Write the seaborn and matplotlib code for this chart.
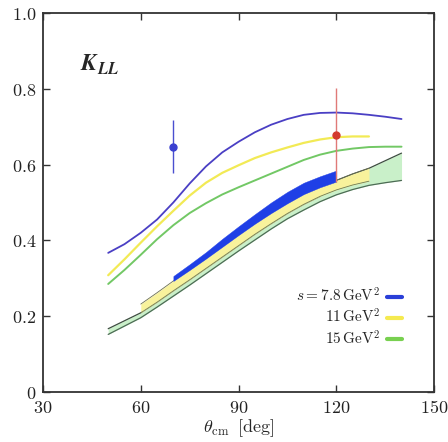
import numpy as np
import pandas as pd
import matplotlib
matplotlib.use("Agg")
import matplotlib.pyplot as plt
import seaborn as sns
from matplotlib.lines import Line2D

# ---------------------------------------------------------------
# datos
# ---------------------------------------------------------------
theta = [50, 55, 60, 65, 70, 75, 80, 85, 90, 95, 100, 105, 110, 115, 120, 125, 130, 135, 140]

kll_78 = [0.367, 0.390, 0.420, 0.455, 0.500, 0.550, 0.595, 0.632, 0.660, 0.685, 0.705,
          0.720, 0.731, 0.736, 0.737, 0.735, 0.731, 0.726, 0.720]
kll_11 = [0.308, 0.350, 0.394, 0.437, 0.478, 0.518, 0.552, 0.578, 0.598, 0.617, 0.632,
          0.645, 0.657, 0.666, 0.672, 0.674, 0.674]
kll_15 = [0.285, 0.322, 0.362, 0.403, 0.440, 0.472, 0.498, 0.521, 0.540, 0.558, 0.576,
          0.594, 0.612, 0.626, 0.636, 0.642, 0.646, 0.647, 0.647]

# bandas
theta_b78 = [70, 75, 80, 85, 90, 95, 100, 105, 110, 115, 120]
b78_lo = [0.293, 0.322, 0.352, 0.383, 0.414, 0.444, 0.472, 0.498, 0.522, 0.540, 0.555]
b78_hi = [0.306, 0.337, 0.369, 0.404, 0.437, 0.469, 0.500, 0.528, 0.552, 0.569, 0.584]

theta_b11 = [60, 65, 70, 75, 80, 85, 90, 95, 100, 105, 110, 115, 120, 125, 130]
b11_lo = [0.209, 0.237, 0.267, 0.296, 0.326, 0.356, 0.386, 0.416, 0.444, 0.471, 0.495,
          0.516, 0.533, 0.546, 0.556]
b11_hi = [0.232, 0.262, 0.293, 0.322, 0.352, 0.383, 0.414, 0.444, 0.472, 0.498, 0.522,
          0.541, 0.558, 0.575, 0.590]

b15_lo = [0.152, 0.174, 0.196, 0.224, 0.253, 0.282, 0.312, 0.342, 0.372, 0.401, 0.430,
          0.457, 0.480, 0.502, 0.520, 0.534, 0.545, 0.552, 0.558]
b15_hi = [0.167, 0.188, 0.209, 0.237, 0.267, 0.296, 0.326, 0.356, 0.386, 0.416, 0.444,
          0.471, 0.495, 0.516, 0.558, 0.575, 0.590, 0.610, 0.630]

# puntos experimentales
exp_theta = [70, 120]
exp_kll = [0.647, 0.678]
exp_err = [0.070, 0.125]

leyenda = [r"$s = 7.8\,\mathrm{GeV}^2$", r"$11\,\mathrm{GeV}^2$", r"$15\,\mathrm{GeV}^2$"]
xticks = [30, 60, 90, 120, 150]
yticks = [0, 0.2, 0.4, 0.6, 0.8, 1.0]
xticklabels = ["30", "60", "90", "120", "150"]
yticklabels = ["0", "0.2", "0.4", "0.6", "0.8", "1.0"]

# ---------------------------------------------------------------
sns.set_style("ticks")
plt.rcParams["mathtext.fontset"] = "cm"

fig = plt.figure(figsize=(4.48, 4.42), dpi=100)
ax = fig.add_axes([0.096, 0.113, 0.873, 0.858])

# bandas: verde, amarilla, azul
ax.fill_between(theta, b15_lo, b15_hi, color="#c9f0c9", lw=0, zorder=1)
sns.lineplot(x=theta, y=b15_lo, color="#4d6b55", lw=0.9, ax=ax, zorder=1.5)
sns.lineplot(x=theta, y=b15_hi, color="#3d4d40", lw=0.9, ax=ax, zorder=1.5)

ax.fill_between(theta_b11, b11_lo, b11_hi, color="#f8f29c", lw=0, zorder=2)
sns.lineplot(x=theta_b11, y=b11_lo, color="#6d7a55", lw=0.6, ax=ax, zorder=2.5)
sns.lineplot(x=theta_b11, y=b11_hi, color="#6d7050", lw=0.6, ax=ax, zorder=2.5)

ax.fill_between(theta_b78, b78_lo, b78_hi, color="#1f3fe6", lw=0.3,
                edgecolor="#1f3fe6", zorder=3)

# curvas
df = pd.DataFrame({"theta": theta, "kll": kll_78})
sns.lineplot(data=df, x="theta", y="kll", color="#4a3fc4", lw=1.3, ax=ax, zorder=4)
sns.lineplot(x=theta[:len(kll_11)], y=kll_11, color="#f2ea55", lw=1.6, ax=ax, zorder=4)
sns.lineplot(x=theta, y=kll_15, color="#72c865", lw=1.4, ax=ax, zorder=4)

# datos
ax.errorbar(exp_theta[0], exp_kll[0], yerr=exp_err[0], fmt="o", ms=5, color="#3a40d0",
            ecolor="#4a4fd0", elinewidth=1.0, capsize=0, zorder=6)
ax.errorbar(exp_theta[1], exp_kll[1], yerr=exp_err[1], fmt="o", ms=5, color="#d23a2e",
            ecolor="#e07a78", elinewidth=1.0, capsize=0, zorder=6)

ax.text(41.5, 0.862, r"$\mathbfit{K}_{\mathbfit{LL}}$", fontsize=17, va="center", ha="left")

handles = [Line2D([], [], color=c, lw=3) for c in ["#2a3fd8", "#f5ea50", "#78d050"]]
ax.legend(handles, leyenda, loc="lower right", bbox_to_anchor=(0.918, 0.118),
          markerfirst=False, frameon=False, fontsize=11, handlelength=1.0,
          handletextpad=0.45, labelspacing=0.2, borderpad=0, borderaxespad=0)

ax.set_xlim(30, 150)
ax.set_ylim(0, 1.0)
ax.set_xticks(xticks)
ax.set_xticklabels(["$" + t + "$" for t in xticklabels])
ax.set_yticks(yticks)
ax.set_yticklabels(["$" + t + "$" for t in yticklabels])
ax.tick_params(direction="in", length=5, width=1.0, top=True, right=True,
               labelsize=13, colors="#333333", labelcolor="#222222")
ax.tick_params(axis="x", pad=5)
ax.tick_params(axis="y", pad=5)
for s in ax.spines.values():
    s.set_linewidth(1.3)
    s.set_color("#333333")
ax.set_xlabel(r"$\theta_{\rm cm}\;\; [\mathrm{deg}]$", fontsize=13, labelpad=0)
ax.set_ylabel("")

fig.savefig("out.png", dpi=100)
